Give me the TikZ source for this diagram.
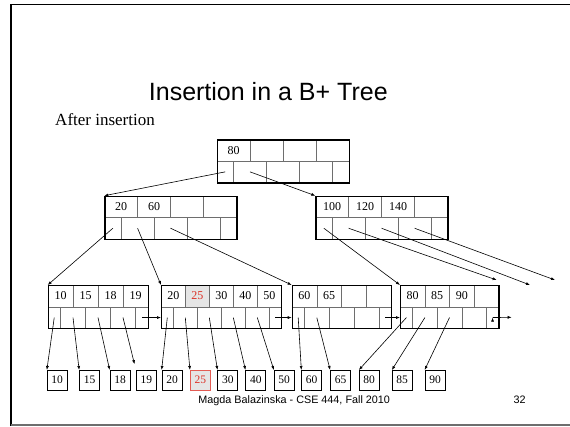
\documentclass[tikz,border=0pt]{standalone}
\usepackage{fontspec}
\setmainfont{Liberation Serif}
\setsansfont{Liberation Sans}
\usetikzlibrary{arrows.meta}
\definecolor{keyred}{RGB}{220,50,40}
\definecolor{rule}{RGB}{110,110,110}

\begin{document}
\begin{tikzpicture}[
    x=1pt, y=-1pt,
    cell/.style={
        draw=rule, line width=0.6pt, inner sep=0pt,
        minimum height=21.5pt, anchor=north west,
        font=\fontsize{12}{14}\selectfont
    },
    bframe/.style={
        draw, line width=1.3pt, inner sep=0pt,
        minimum height=43pt, anchor=north west
    },
    oldkey/.style={},
    newkey/.style={fill=gray!20, text=keyred},
    rec/.style={
        draw, line width=0.7pt, inner sep=0pt,
        minimum width=20pt, minimum height=19.5pt, anchor=north,
        font=\fontsize{11.5}{13}\selectfont
    },
    oldrec/.style={},
    newrec/.style={fill=gray!20, draw=keyred!80, text=keyred},
    ptr/.style={-{Latex[length=4pt,width=3pt]}, line width=0.6pt}
]
\useasboundingbox (0,0) rectangle (570,426);

% slide frame
\draw[line width=1.6pt] (11,426) -- (11,4.5) -- (570,4.5);
\draw[rule, line width=1.2pt] (11,425) -- (570,425);

\node[anchor=base, font=\sffamily\fontsize{25}{30}\selectfont] (title) at (268.3,100) {Insertion in a B+ Tree};
\node[anchor=base west, font=\fontsize{17}{20}\selectfont] (sub) at (51.7,125) {After insertion};
\node[anchor=base, font=\sffamily\fontsize{10.8}{13}\selectfont] (foot) at (294.2,403) {Magda Balazinska - CSE 444, Fall 2010};
\node[anchor=base, font=\sffamily\fontsize{10.8}{13}\selectfont] (page) at (519.7,403) {32};

% root
\foreach \k [count=\i] in {80,{},{},{}}
    \node[cell, minimum width=33pt] (root-k\i) at ({216.7+(\i-1)*33},139.3) {\k};
\foreach \j [evaluate=\j as \px using 216.7+(\j>0)*(\j-0.5)*33,
             evaluate=\j as \pw using 33-16.5*(\j<1)-16.5*(\j>3)] in {0,...,4}
    \node[cell, minimum width=\pw] (root-p\j) at (\px,160.8) {};
\node[bframe, minimum width=132pt] (root) at (216.7,139.3) {};

% inner nodes
\foreach \k [count=\i] in {20,60,{},{}}
    \node[cell, minimum width=33pt] (in1-k\i) at ({104.3+(\i-1)*33},195.7) {\k};
\foreach \j [evaluate=\j as \px using 104.3+(\j>0)*(\j-0.5)*33,
             evaluate=\j as \pw using 33-16.5*(\j<1)-16.5*(\j>3)] in {0,...,4}
    \node[cell, minimum width=\pw] (in1-p\j) at (\px,217.2) {};
\node[bframe, minimum width=132pt] (in1) at (104.3,195.7) {};

\foreach \k [count=\i] in {100,120,140,{}}
    \node[cell, minimum width=33pt] (in2-k\i) at ({315.3+(\i-1)*33},195.7) {\k};
\foreach \j [evaluate=\j as \px using 315.3+(\j>0)*(\j-0.5)*33,
             evaluate=\j as \pw using 33-16.5*(\j<1)-16.5*(\j>3)] in {0,...,4}
    \node[cell, minimum width=\pw] (in2-p\j) at (\px,217.2) {};
\node[bframe, minimum width=132pt] (in2) at (315.3,195.7) {};

% leaves
\foreach \k [count=\i] in {10,15,18,19}
    \node[cell, minimum width=25pt] (leaf1-k\i) at ({47.7+(\i-1)*25},285) {\k};
\foreach \j [evaluate=\j as \px using 47.7+(\j>0)*(\j-0.5)*25,
             evaluate=\j as \pw using 25-12.5*(\j<1)-12.5*(\j>3)] in {0,...,4}
    \node[cell, minimum width=\pw] (leaf1-p\j) at (\px,306.5) {};
\node[bframe, minimum width=100pt] (leaf1) at (47.7,285) {};

\foreach \k/\st [count=\i] in {20/oldkey,25/newkey,30/oldkey,40/oldkey,50/oldkey}
    \node[cell, \st, minimum width=24pt] (leaf2-k\i) at ({161+(\i-1)*24},285) {\k};
\foreach \j [evaluate=\j as \px using 161+(\j>0)*(\j-0.5)*24,
             evaluate=\j as \pw using 24-12*(\j<1)-12*(\j>4)] in {0,...,5}
    \node[cell, minimum width=\pw] (leaf2-p\j) at (\px,306.5) {};
\node[bframe, minimum width=120pt] (leaf2) at (161,285) {};

\foreach \k [count=\i] in {60,65,{},{}}
    \node[cell, minimum width=24.8pt] (leaf3-k\i) at ({291.7+(\i-1)*24.8},285) {\k};
\foreach \j [evaluate=\j as \px using 291.7+(\j>0)*(\j-0.5)*24.8,
             evaluate=\j as \pw using 24.8-12.4*(\j<1)-12.4*(\j>3)] in {0,...,4}
    \node[cell, minimum width=\pw] (leaf3-p\j) at (\px,306.5) {};
\node[bframe, minimum width=99.2pt] (leaf3) at (291.7,285) {};

\foreach \k [count=\i] in {80,85,90,{}}
    \node[cell, minimum width=24.6pt] (leaf4-k\i) at ({400+(\i-1)*24.6},285) {\k};
\foreach \j [evaluate=\j as \px using 400+(\j>0)*(\j-0.5)*24.6,
             evaluate=\j as \pw using 24.6-12.3*(\j<1)-12.3*(\j>3)] in {0,...,4}
    \node[cell, minimum width=\pw] (leaf4-p\j) at (\px,306.5) {};
\node[bframe, minimum width=98.4pt] (leaf4) at (400,285) {};

% data records
\foreach \v/\cx/\st in {10/57.2/oldrec, 15/89.5/oldrec, 18/120/oldrec, 19/146.3/oldrec,
        20/172/oldrec, 25/200.3/newrec, 30/227.8/oldrec, 40/255.8/oldrec, 50/284.2/oldrec,
        60/311.7/oldrec, 65/340.5/oldrec, 80/369.2/oldrec, 85/402.2/oldrec, 90/435/oldrec}
    \node[rec, \st] (r\v) at (\cx,370) {\v};

\coordinate (more1) at (496.7,280);
\coordinate (more2) at (530,285);
\coordinate (more3) at (555,280);
\coordinate (next4) at (511.7,317.3);

\draw[ptr]
    (root-p0.center) edge (in1-k1.north west)
    (root-p1.center) edge (in2-k1.north west)
    (in1-p0.center) edge (leaf1-k1.north west)
    (in1-p1.center) edge (leaf2-k1.north west)
    (in1-p2.center) edge (leaf3-k1.north west)
    (in2-p0.center) edge (leaf4-k1.north west)
    (in2-p1.center) edge (more1)
    (in2-p2.center) edge (more2)
    (in2-p3.center) edge (more3)

    (leaf1-p0.center) edge (r10.north west)
    (leaf1-p1.center) edge (r15.north west)
    (leaf1-p2.center) edge (r18.north west)
    (leaf1-p3.center) edge[shorten >=6pt] (r19.north west)
    (leaf1-p4.center) edge (leaf2-p0.west)

    (leaf2-p0.center) edge (r20.north west)
    (leaf2-p1.center) edge (r25.north west)
    (leaf2-p2.center) edge (r30.north west)
    (leaf2-p3.center) edge (r40.north west)
    (leaf2-p4.center) edge (r50.north west)
    (leaf2-p5.center) edge (leaf3-p0.west)

    (leaf3-p0.center) edge (r60.north west)
    (leaf3-p1.center) edge (r65.north west)
    (leaf3-p4.center) edge (leaf4-p0.west)

    (leaf4-p0.center) edge (r80.north west)
    (leaf4-p1.center) edge (r85.north west)
    (leaf4-p2.center) edge (r90.north west)
    (leaf4-p4.center) edge (next4);
\end{tikzpicture}
\end{document}
